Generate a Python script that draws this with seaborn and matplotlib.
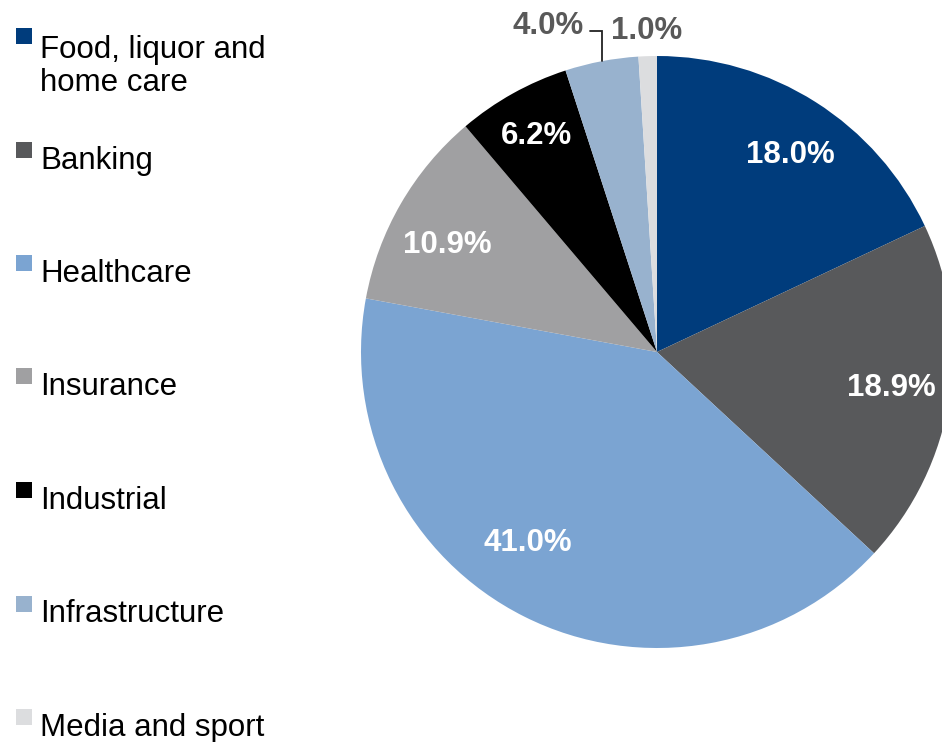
import numpy as np
import matplotlib
matplotlib.use("Agg")
import matplotlib.pyplot as plt
import seaborn as sns
from matplotlib.patches import Rectangle

# ================= data =================
categories = ["Food, liquor and\nhome care", "Banking", "Healthcare", "Insurance",
              "Industrial", "Infrastructure", "Media and sport"]
shares = [18.0, 18.9, 41.0, 10.9, 6.2, 4.0, 1.0]
colors = ["#003C7C", "#58595B", "#7BA4D2", "#A0A0A2", "#000000", "#98B2CE", "#DCDDDF"]
# ========================================

# label placement (radius fraction / angle nudge in degrees)
label_dist = [0.803, 0.8, 0.78, 0.796, 0.834, 1.085, 1.085]
label_nudge = [-1.6, 0.0, -7.4, 3.0, 0.0, 0.0, 0.0]

sns.set_theme(style="white")
plt.rcParams["font.family"] = ["Liberation Sans", "DejaVu Sans"]

W, H = 942, 742
CX, CY, R = 657, 352, 296   # pie centre / radius in pixels

fig = plt.figure(figsize=(W / 100, H / 100), dpi=100)
ax = fig.add_axes([0, 0, 1, 1])

wedges, _ = ax.pie(shares, colors=sns.color_palette(colors), startangle=90,
                   counterclock=False, radius=R, center=(0, 0),
                   wedgeprops=dict(linewidth=0))
ax.set_xlim(-CX, W - CX)
ax.set_ylim(CY - H, CY)
ax.set_aspect("equal")
ax.axis("off")

FS = 22.5
gray = "#595959"

for i, (w, v) in enumerate(zip(wedges, shares)):
    mid = np.deg2rad((w.theta1 + w.theta2) / 2 + label_nudge[i])
    d = label_dist[i] * R
    txt = f"{v:.1f}%"
    if v >= 5:
        ax.text(d * np.cos(mid), d * np.sin(mid), txt, color="white",
                fontsize=FS, fontweight="bold", ha="center", va="center")
    elif v >= 2:
        # outside label with a leader line
        ex, ey = R * np.cos(mid), R * np.sin(mid)
        ax.plot([ex, ex, ex - 12], [ey, d, d], color="#222222", lw=1.3,
                solid_joinstyle="miter")
        ax.text(ex - 18, d + 5, txt, color=gray, fontsize=FS,
                fontweight="bold", ha="right", va="center")
    else:
        ax.text(d * np.cos(mid), d * np.sin(mid), txt, color=gray,
                fontsize=FS, fontweight="bold", ha="center", va="center")

# legend drawn on the left
step = 113.5
for i, (name, c) in enumerate(zip(categories, colors)):
    yc = 36 + i * step
    extra = 36 * name.count("\n")
    ax.add_patch(Rectangle((16 - CX, CY - yc - 8), 16, 16, color=c, lw=0,
                           clip_on=False))
    ax.text(40 - CX, CY - yc - 19 - extra, name, fontsize=FS, color="black",
            ha="left", va="baseline", linespacing=1.15)

fig.savefig("out.png", dpi=100)
